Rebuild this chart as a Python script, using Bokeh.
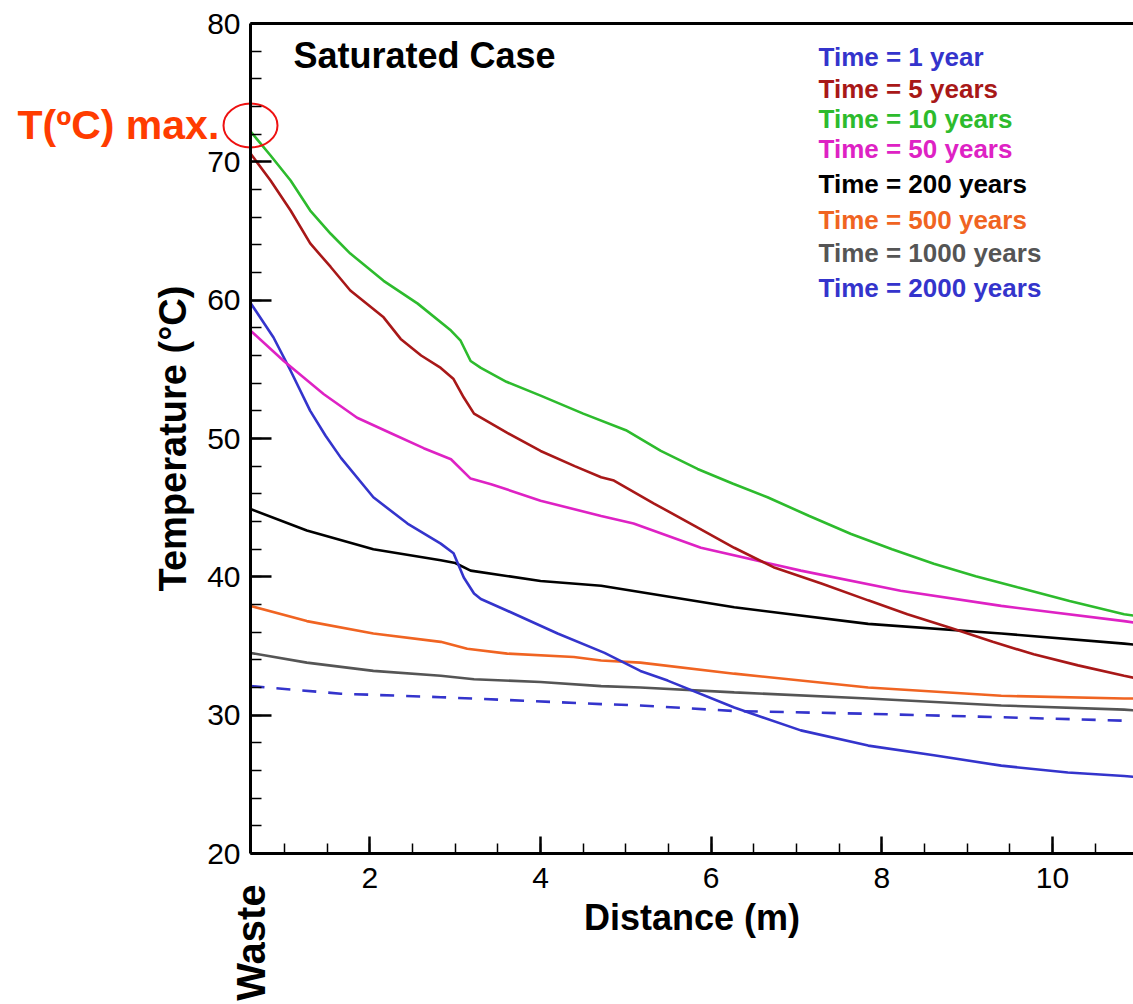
import numpy as np
from bokeh.plotting import figure
from bokeh.models import Range1d, LinearAxis, SingleIntervalTicker, FixedTicker, Label
from bokeh.embed import file_html
from bokeh.resources import INLINE

# ---------------- data ----------------
x_1yr = [0.6, 0.87, 1.07, 1.30, 1.48, 1.66, 2.04, 2.44, 2.83, 2.98, 3.10, 3.22, 3.30, 3.61, 4.2, 4.75,
         5.17, 5.49, 6.27, 7.05, 7.84, 8.61, 9.4, 10.18, 10.84, 10.95]
t_1yr = [59.8, 57.3, 54.9, 52.0, 50.2, 48.6, 45.75, 43.85, 42.4, 41.7, 39.95, 38.8, 38.4, 37.55, 35.9, 34.5,
         33.2, 32.5, 30.55, 28.9, 27.8, 27.1, 26.35, 25.85, 25.6, 25.55]

x_5yr = [0.6, 0.835, 1.07, 1.30, 1.54, 1.77, 2.16, 2.36, 2.6, 2.83, 2.98, 3.10, 3.22, 3.61, 4.0, 4.4,
         4.71, 4.86, 5.33, 5.8, 6.27, 6.73, 7.3, 7.84, 8.3, 8.81, 9.3, 9.78, 10.3, 10.84, 10.95]
t_5yr = [70.6, 68.65, 66.48, 64.1, 62.4, 60.7, 58.76, 57.2, 56.0, 55.1, 54.3, 52.96, 51.8, 50.4, 49.1, 48.0,
         47.2, 46.96, 45.3, 43.7, 42.1, 40.7, 39.5, 38.3, 37.3, 36.3, 35.3, 34.4, 33.6, 32.85, 32.7]

x_10yr = [0.6, 0.835, 1.07, 1.30, 1.54, 1.77, 2.16, 2.56, 2.95, 3.06, 3.18, 3.3, 3.6, 4.0, 4.5, 5.0,
          5.41, 5.84, 6.25, 6.66, 7.15, 7.64, 8.12, 8.61, 9.1, 9.59, 10.2, 10.84, 10.95]
t_10yr = [72.2, 70.46, 68.65, 66.48, 64.8, 63.37, 61.4, 59.75, 57.8, 57.1, 55.6, 55.1, 54.1, 53.1, 51.8, 50.6,
          49.1, 47.8, 46.75, 45.75, 44.4, 43.1, 42.0, 40.95, 40.05, 39.24, 38.25, 37.3, 37.2]

x_50yr = [0.6, 0.99, 1.46, 1.85, 2.24, 2.63, 2.95, 3.18, 3.42, 4.0, 4.71, 5.09, 5.88, 7.05, 8.22, 9.4,
          10.84, 10.95]
t_50yr = [57.8, 55.6, 53.2, 51.5, 50.4, 49.3, 48.5, 47.1, 46.7, 45.5, 44.4, 43.85, 42.1, 40.45, 39.0, 37.9,
          36.8, 36.7]

x_200yr = [0.6, 1.26, 2.04, 2.83, 3.0, 3.18, 4.0, 4.71, 6.27, 7.84, 9.4, 10.84, 10.95]
t_200yr = [44.9, 43.35, 42.0, 41.2, 41.0, 40.45, 39.7, 39.36, 37.8, 36.6, 35.9, 35.17, 35.1]

x_500yr = [0.6, 1.26, 2.04, 2.83, 3.14, 3.61, 4.39, 4.71, 5.17, 6.27, 7.84, 9.4, 10.84, 10.95]
t_500yr = [37.9, 36.8, 35.9, 35.3, 34.8, 34.45, 34.2, 33.95, 33.8, 33.0, 32.0, 31.4, 31.2, 31.2]

x_1000yr = [0.6, 1.26, 2.04, 2.83, 3.22, 4.0, 4.71, 5.17, 6.27, 7.84, 9.4, 10.84, 10.95]
t_1000yr = [34.5, 33.8, 33.2, 32.85, 32.6, 32.4, 32.1, 32.0, 31.65, 31.2, 30.7, 30.4, 30.35]

x_2000yr = [0.6, 1.66, 2.83, 4.71, 5.17, 6.27, 7.84, 9.4, 10.84, 10.95]
t_2000yr = [32.1, 31.55, 31.3, 30.8, 30.7, 30.3, 30.1, 29.85, 29.6, 29.55]

legend_labels = ["Time = 1 year", "Time = 5 years", "Time = 10 years", "Time = 50 years",
                 "Time = 200 years", "Time = 500 years", "Time = 1000 years", "Time = 2000 years"]

x_bounds = (0.6, 10.95)
y_bounds = (20, 80)
x_ticks_interval = 2
y_ticks_interval = 10

# ---------------- layout ----------------
FONT = "Liberation Sans"
W, H = 1133, 1004
FRAME_L, FRAME_T, FRAME_B = 250, 23, 853          # pixel box of the axes in the picture
px_per_x = (W - FRAME_L) / (x_bounds[1] - x_bounds[0])
px_per_y = (FRAME_B - FRAME_T) / (y_bounds[1] - y_bounds[0])
# the plotting frame covers the whole canvas so that the outside texts are not clipped;
# the axes are pinned at the data bounds with fixed_location
x_start = x_bounds[0] - FRAME_L / px_per_x
y_end = y_bounds[1] + FRAME_T / px_per_y
y_start = y_bounds[0] - (H - FRAME_B) / px_per_y


def dx(px):
    return x_bounds[0] + (px - FRAME_L) / px_per_x


def dy(py):
    return y_bounds[1] - (py - FRAME_T) / px_per_y


colors = ["#3434cc", "#a81818", "#2dbb2d", "#de22c4", "#000000", "#f06422", "#555555", "#3434cc"]
dashes = ["solid"] * 7 + ["14 12"]
series = [(x_1yr, t_1yr), (x_5yr, t_5yr), (x_10yr, t_10yr), (x_50yr, t_50yr),
          (x_200yr, t_200yr), (x_500yr, t_500yr), (x_1000yr, t_1000yr), (x_2000yr, t_2000yr)]

p = figure(width=W, height=H, output_backend="svg", toolbar_location=None, title=None,
           x_range=Range1d(x_start, x_bounds[1]), y_range=Range1d(y_start, y_end),
           x_axis_type=None, y_axis_type=None,
           min_border_left=0, min_border_right=0, min_border_top=0, min_border_bottom=0)
p.outline_line_color = None
p.background_fill_color = "white"

order = [7, 6, 5, 4, 0, 3, 1, 2]
for i in order:
    xs, ys = series[i]
    p.line(xs, ys, line_color=colors[i], line_width=2.6, line_dash=dashes[i])


def style(ax):
    ax.axis_line_width = 3
    ax.axis_line_color = "black"
    ax.major_tick_out = 0
    ax.minor_tick_out = 0
    ax.major_tick_line_width = 2.5
    ax.minor_tick_line_width = 1.5
    ax.major_label_text_font = FONT
    ax.major_label_text_font_size = "30px"
    ax.major_label_text_color = "black"
    ax.axis_label_text_font = FONT
    ax.axis_label_text_font_style = "bold"
    ax.axis_label_text_color = "black"


xaxis = LinearAxis(fixed_location=y_bounds[0], bounds=x_bounds,
                   ticker=SingleIntervalTicker(interval=x_ticks_interval, num_minor_ticks=4),
                   axis_label="Distance (m)")
style(xaxis)
xaxis.major_tick_in = 17
xaxis.minor_tick_in = 10
xaxis.major_label_standoff = 14
xaxis.axis_label_text_font_size = "36px"
xaxis.axis_label_standoff = 6
p.add_layout(xaxis, "below")

yaxis = LinearAxis(fixed_location=x_bounds[0], bounds=y_bounds,
                   ticker=SingleIntervalTicker(interval=y_ticks_interval, num_minor_ticks=5),
                   axis_label="Temperature (°C)")
style(yaxis)
yaxis.major_tick_in = 21
yaxis.minor_tick_in = 11
yaxis.major_label_standoff = 10
yaxis.axis_label_text_font_size = "38px"
yaxis.axis_label_standoff = 10
p.add_layout(yaxis, "left")

top = LinearAxis(fixed_location=y_bounds[1], bounds=x_bounds, ticker=FixedTicker(ticks=[]),
                 axis_line_width=3, axis_line_color="black",
                 major_tick_line_color=None, minor_tick_line_color=None,
                 major_label_text_font_size="0px")
p.add_layout(top, "above")

# ---------------- annotations ----------------
p.add_layout(Label(x=dx(293), y=dy(55), text="Saturated Case", text_font=FONT, text_font_size="36px",
                   text_font_style="bold", text_color="black", text_baseline="middle"))

leg_py = [56.7, 88.3, 118, 148, 183, 219, 252, 287]
for lab, col, py in zip(legend_labels, colors, leg_py):
    p.add_layout(Label(x=dx(818), y=dy(py), text=lab, text_font=FONT, text_font_size="26px",
                       text_font_style="bold", text_color=col, text_baseline="middle"))

p.add_layout(Label(x=dx(17), y=dy(124), text="T(ºC) max.", text_font=FONT, text_font_size="41px",
                   text_font_style="bold", text_color="#ff3c00", text_baseline="middle"))

# red ring marking the maximum temperature at the waste boundary
p.ellipse(x=[x_10yr[0]], y=[dy(125)], width=54, height=44, width_units="screen",
          height_units="screen", fill_color=None, line_color="#ee1111", line_width=2)

p.add_layout(Label(x=x_bounds[0], y=dy(942), text="Waste", text_font=FONT, text_font_size="40px",
                   text_font_style="bold", text_color="black", angle=np.pi / 2,
                   text_align="center", text_baseline="middle"))

open("out.html", "w").write(file_html(p, INLINE))
